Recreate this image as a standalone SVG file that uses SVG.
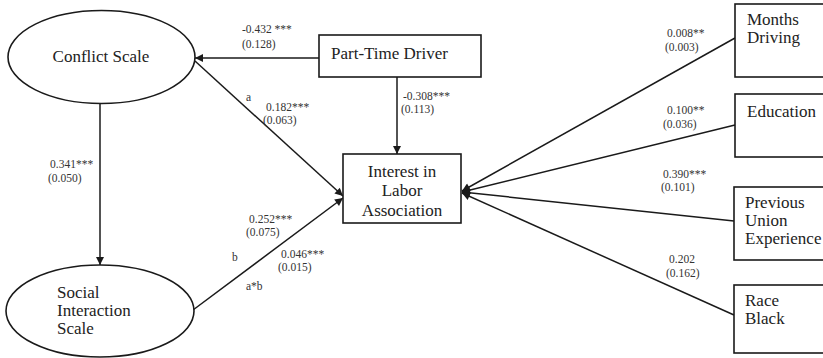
<svg xmlns="http://www.w3.org/2000/svg" width="823" height="358" viewBox="0 0 823 358">
<style>
.node{fill:#fff;stroke:#1a1a1a;stroke-width:1.6}
.lbl{font-family:"Liberation Serif","Times New Roman",serif;font-size:17px;fill:#222}
.sm{font-family:"Liberation Serif","Times New Roman",serif;font-size:11.5px;fill:#333}
.edge{stroke:#1a1a1a;stroke-width:1.5;fill:none}
.arr{marker-end:url(#ah)}
</style>
<defs>
<marker id="ah" viewBox="0 0 10 10" refX="10" refY="5" markerWidth="10" markerHeight="8" markerUnits="userSpaceOnUse" orient="auto">
<path d="M0,0 L10,5 L0,10 z" fill="#1a1a1a"/>
</marker>
</defs>
<rect width="823" height="358" fill="#fff"/>
<g id="connectors">
<line class="edge arr" x1="319" y1="58" x2="195" y2="58"/>
<line class="edge arr" x1="397" y1="77" x2="397" y2="154"/>
<line class="edge arr" x1="195" y1="61" x2="343" y2="196"/>
<line class="edge arr" x1="100" y1="104" x2="100" y2="265"/>
<line class="edge arr" x1="193" y1="310" x2="343" y2="198"/>
<line class="edge arr" x1="735" y1="38" x2="462" y2="191"/>
<line class="edge arr" x1="735" y1="125" x2="462" y2="192"/>
<line class="edge arr" x1="734" y1="221" x2="462" y2="192"/>
<line class="edge arr" x1="734" y1="315" x2="462" y2="193"/>
</g>
<g id="edge-labels">
<text class="sm" x="242" y="33">-0.432 ***</text>
<text class="sm" x="242" y="48">(0.128)</text>
<text class="sm" x="246" y="101">a</text>
<text class="sm" x="266" y="111">0.182***</text>
<text class="sm" x="263" y="124">(0.063)</text>
<text class="sm" x="403" y="100">-0.308***</text>
<text class="sm" x="401" y="113">(0.113)</text>
<text class="sm" x="50" y="168">0.341***</text>
<text class="sm" x="48" y="182">(0.050)</text>
<text class="sm" x="249" y="223">0.252***</text>
<text class="sm" x="246" y="236">(0.075)</text>
<text class="sm" x="232" y="261">b</text>
<text class="sm" x="281" y="258">0.046***</text>
<text class="sm" x="278" y="271">(0.015)</text>
<text class="sm" x="246" y="290">a*b</text>
<text class="sm" x="667" y="37">0.008**</text>
<text class="sm" x="665" y="51">(0.003)</text>
<text class="sm" x="667" y="114">0.100**</text>
<text class="sm" x="663" y="128">(0.036)</text>
<text class="sm" x="663" y="178">0.390***</text>
<text class="sm" x="661" y="191">(0.101)</text>
<text class="sm" x="669" y="263">0.202</text>
<text class="sm" x="666" y="277">(0.162)</text>
</g>
<g id="conflict-scale">
<ellipse class="node" cx="101.5" cy="57" rx="93.5" ry="46.5"/>
<text class="lbl" x="101" y="62" text-anchor="middle">Conflict Scale</text>
</g>
<g id="part-time-driver">
<rect class="node" x="319" y="35" width="162" height="42"/>
<text class="lbl" x="331" y="59">Part-Time Driver</text>
</g>
<g id="interest">
<rect class="node" x="343" y="154" width="118" height="69"/>
<text class="lbl" x="402" y="177" text-anchor="middle">Interest in</text>
<text class="lbl" x="402" y="196" text-anchor="middle">Labor</text>
<text class="lbl" x="402" y="216" text-anchor="middle">Association</text>
</g>
<g id="social-interaction">
<ellipse class="node" cx="100" cy="311" rx="94" ry="46"/>
<text class="lbl" x="57" y="298">Social</text>
<text class="lbl" x="57" y="316">Interaction</text>
<text class="lbl" x="57" y="334">Scale</text>
</g>
<g id="months-driving">
<rect class="node" x="735" y="4" width="100" height="73"/>
<text class="lbl" x="747" y="25">Months</text>
<text class="lbl" x="747" y="43">Driving</text>
</g>
<g id="education">
<rect class="node" x="735" y="94" width="100" height="63"/>
<text class="lbl" x="747" y="117">Education</text>
</g>
<g id="previous-union">
<rect class="node" x="734" y="187" width="100" height="73"/>
<text class="lbl" x="745" y="208">Previous</text>
<text class="lbl" x="745" y="226">Union</text>
<text class="lbl" x="745" y="244">Experience</text>
</g>
<g id="race-black">
<rect class="node" x="734" y="285" width="100" height="68"/>
<text class="lbl" x="745" y="306">Race</text>
<text class="lbl" x="745" y="324">Black</text>
</g>
</svg>
